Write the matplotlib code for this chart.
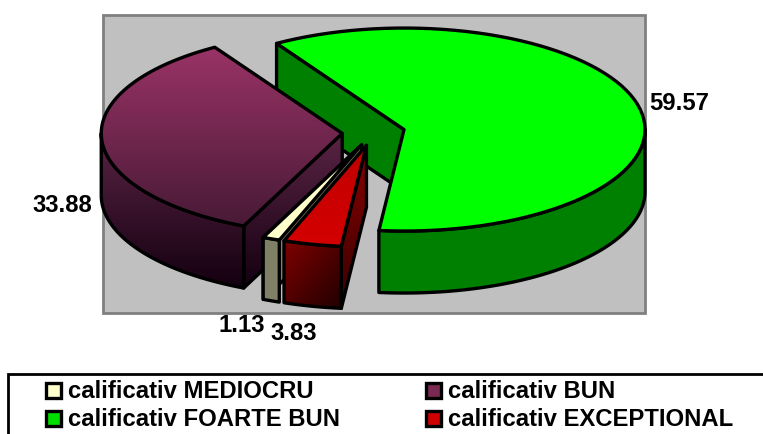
import numpy as np
import matplotlib
matplotlib.use('Agg')
import matplotlib.pyplot as plt
from matplotlib.patches import Polygon, Rectangle
from matplotlib.colors import LinearSegmentedColormap

names = ['calificativ MEDIOCRU', 'calificativ BUN', 'calificativ FOARTE BUN', 'calificativ EXCEPTIONAL']
values = [1.13, 33.88, 59.57, 3.83]
labels = ['1.13', '33.88', '59.57', '3.83']

# pie geometry in pixels, the axes below is the whole figure
cx, cy = 373.5, 132.5
a, b = 241, 101.5
depth = 62
explode = 0.13
start = 200
lw = 2.4

plt.rcParams['font.family'] = ['Liberation Sans', 'DejaVu Sans']
plt.rcParams['font.weight'] = 'bold'

fig = plt.figure(figsize=(7.63, 4.34), dpi=100)
ax = fig.add_axes([0, 0, 1, 1])
ax.set_xlim(0, 763)
ax.set_ylim(434, 0)
ax.axis('off')


def point(ox, oy, t):
    r = np.radians(t)
    return ox + a * np.sin(r), oy - b * np.cos(r)


def arc(ox, oy, t0, t1):
    t = np.linspace(t0, t1, 80)
    return np.column_stack(point(ox, oy, t))


def gradient(poly, c0, c1, z, diag=False):
    # gradient fill clipped to the polygon, then the black outline on top
    xs, ys = poly[:, 0], poly[:, 1]
    cmap = LinearSegmentedColormap.from_list('g', [c0, c1])
    g = np.linspace(0, 1, 128)
    if diag:
        img = (g[None, :] + g[:, None]) / 2
    else:
        img = g[:, None]
    extent = (xs.min(), xs.max(), ys.max(), ys.min())
    im = ax.imshow(img, cmap=cmap, extent=extent, aspect='auto', zorder=z, interpolation='bilinear')
    p = Polygon(poly, closed=True, fc='none', ec='k', lw=lw, zorder=z + 0.1, joinstyle='round')
    ax.add_patch(p)
    im.set_clip_path(p)


def flat(poly, color, z):
    ax.add_patch(Polygon(poly, closed=True, fc=color, ec='k', lw=lw, zorder=z, joinstyle='round'))


def outer_wall(ox, oy, t0, t1):
    top = arc(ox, oy, t0, t1)
    return np.vstack([top, (top + [0, depth])[::-1]])


def cut_wall(ox, oy, t):
    x, y = point(ox, oy, t)
    return np.array([[ox, oy], [x, y], [x, y + depth], [ox, oy + depth]])


def top_face(ox, oy, t0, t1):
    return np.vstack([[ox, oy], arc(ox, oy, t0, t1)])


# plot area
ax.add_patch(Rectangle((102.5, 15), 542, 298, fc='#C0C0C0', ec='#808080', lw=2, zorder=1))

# slice angles, clockwise from twelve o'clock
total = sum(values)
angles = {}
t = start
for name, v in zip(names, values):
    sweep = v / total * 360
    mid = np.radians(t + sweep / 2)
    angles[name] = (t, t + sweep, cx + explode * a * np.sin(mid), cy - explode * b * np.cos(mid))
    t += sweep

# green: wraps past 360 so take it back by a turn
t0, t1, ox, oy = angles[names[2]]
t0, t1 = t0 - 360, t1 - 360
flat(cut_wall(ox, oy, t0), '#008000', 2)
flat(outer_wall(ox, oy, 90, t1), '#008000', 3)
flat(top_face(ox, oy, t0, t1), '#00FF00', 4)

# purple
t0, t1, ox, oy = angles[names[1]]
gradient(cut_wall(ox, oy, t0), '#5A2445', '#140010', 5)
gradient(outer_wall(ox, oy, t0, 270), '#5A2445', '#140010', 6)
gradient(top_face(ox, oy, t0, t1), '#993366', '#481A36', 7)

# cream
t0, t1, ox, oy = angles[names[0]]
flat(cut_wall(ox, oy, t1), '#808066', 8)
flat(outer_wall(ox, oy, t0, t1), '#808066', 9)
flat(top_face(ox, oy, t0, t1), '#FFFFCC', 10)

# red
t0, t1, ox, oy = angles[names[3]]
gradient(cut_wall(ox, oy, t0), '#8A0000', '#380000', 11)
gradient(outer_wall(ox, oy, t0, t1), '#800000', '#200000', 12, diag=True)
gradient(top_face(ox, oy, t0, t1), '#C00000', '#D40000', 13)

# value labels
ax.text(649, 103, labels[2], fontsize=17.2, va='center', ha='left', zorder=20)
ax.text(32, 205, labels[1], fontsize=17.2, va='center', ha='left', zorder=20)
ax.text(219, 326, labels[0], fontsize=17.2, va='center', ha='left', zorder=20)
ax.text(270, 333, labels[3], fontsize=17.2, va='center', ha='left', zorder=20)

# legend box runs off the figure on the right and at the bottom
ax.add_patch(Rectangle((8, 374), 780, 80, fc='white', ec='k', lw=2, zorder=1))
swatch_x = [46, 426, 46, 426]
swatch_y = [390, 390, 418.5, 418.5]
swatch_c = ['#FFFFCC', '#7A2A52', '#00E000', '#D00000']
for name, sx, sy, col in zip(names, swatch_x, swatch_y, swatch_c):
    ax.add_patch(Rectangle((sx, sy - 7.5), 15, 15, fc=col, ec='k', lw=2.4, zorder=2))
    ax.text(sx + 22, sy + 1.5, name, fontsize=17.2, va='center', ha='left', zorder=3)

fig.savefig('out.png', dpi=100)
